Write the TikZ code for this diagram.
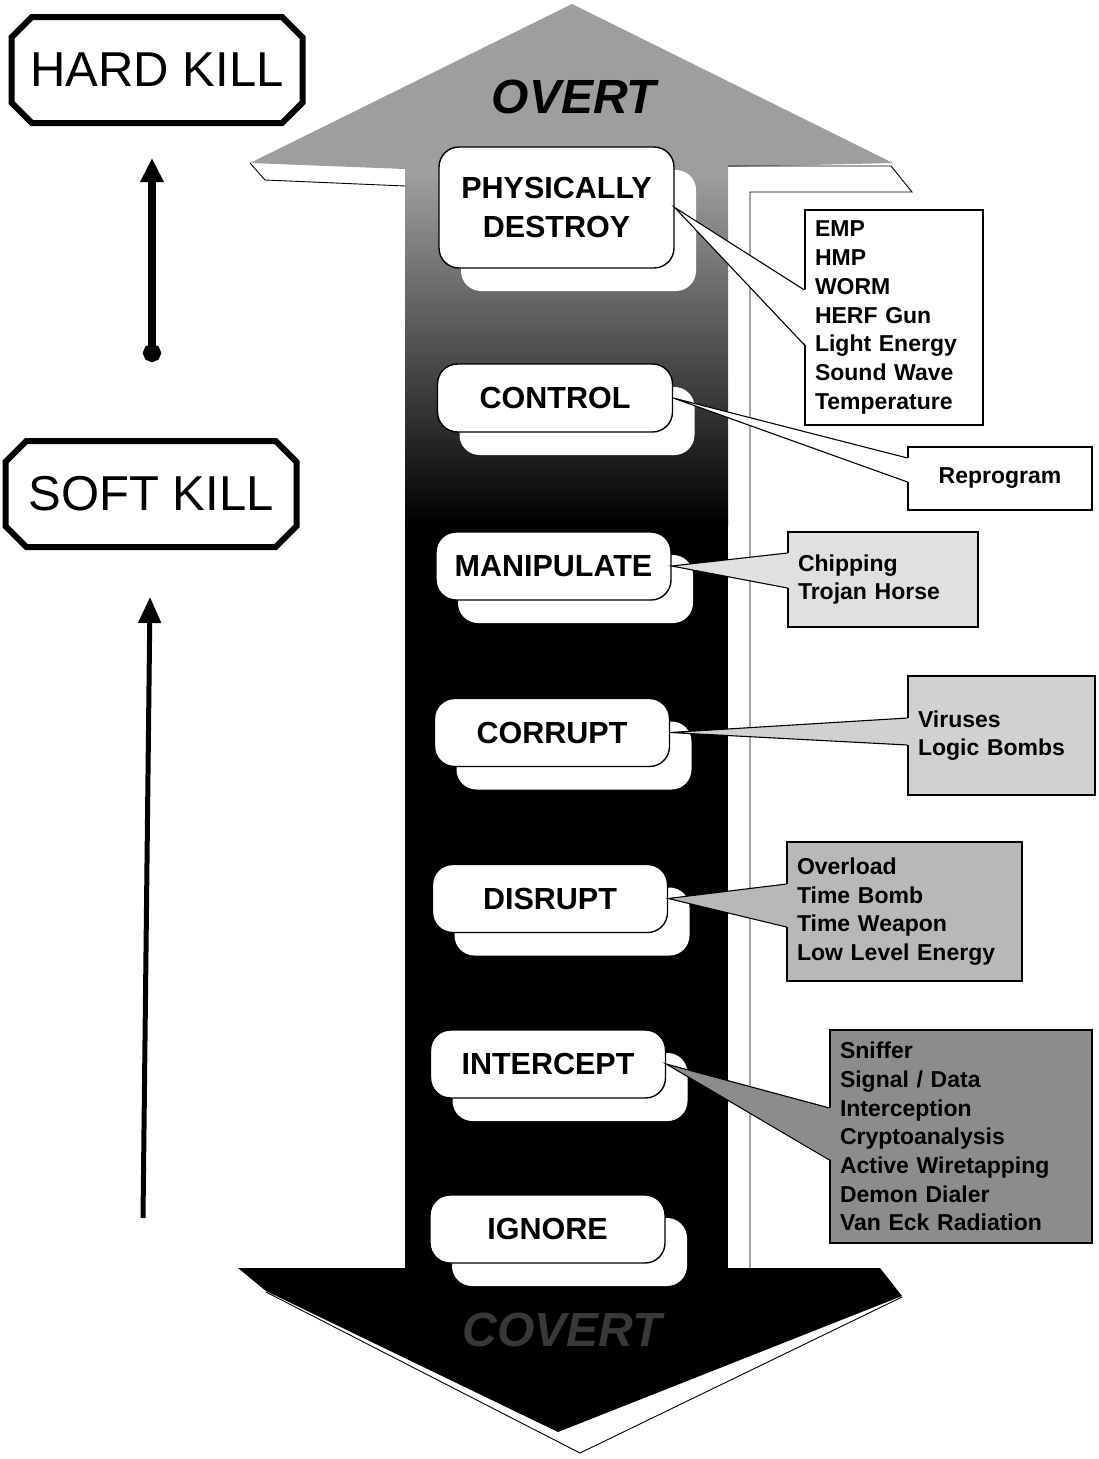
\documentclass[tikz,border=0pt]{standalone}
\usepackage{fontspec}
\setmainfont{Liberation Sans}
\usetikzlibrary{shapes.misc,arrows.meta,shadows}
\begin{document}
\begin{tikzpicture}[x=1pt,y=-1pt,
  killbox/.style={draw=black, line width=6pt, fill=white, chamfered rectangle, chamfered rectangle xsep=26pt, minimum width=291pt, minimum height=106pt, inner sep=0pt, font=\fontsize{49}{55}\selectfont},
  stepbox/.style={draw=black, line width=1.4pt, fill=white, rounded corners=20pt, minimum width=235pt, minimum height=68pt, inner sep=0pt, align=center, font=\fontsize{30.5}{38.5}\selectfont\bfseries, general shadow={draw=none, fill=white, shadow xshift=22pt, shadow yshift=-23pt}},
  listbox/.style={draw=black, line width=1.1pt, inner xsep=10pt, inner ysep=0pt, align=left, font=\fontsize{23}{28.7}\selectfont\bfseries},
  callline/.style={draw=black, line width=1.1pt},
]
\useasboundingbox (0,0) rectangle (1098,1459);
% ---- double arrow body ----
\fill[black!38] (572,4) -- (893,163) -- (728,167) -- (728,176) -- (405,176) -- (405,169) -- (250,163) -- cycle;
\shade[top color=black!38, middle color=black!52, bottom color=black] (405,175) rectangle (728,525);
\fill[black] (405,523) rectangle (728,1270);
\fill[black] (238,1268) -- (880,1268) -- (902,1296) -- (558,1432) -- (266,1291) -- cycle;
\draw[line width=0.9pt] (266,1292) -- (580,1453) -- (902,1297);
\draw[line width=0.9pt] (728,166) -- (891,166) -- (912,192) -- (750,192) -- (750,1268);
\draw[line width=0.9pt] (250,163) -- (265,180) -- (405,186);
\node[font=\fontsize{48}{52}\selectfont\bfseries\itshape] (overt) at (574,97) {OVERT};
\node[font=\fontsize{48}{52}\selectfont\bfseries\itshape, text=black!78] (covert) at (562,1330) {COVERT};
% ---- steps ----
\node[stepbox, minimum height=121pt] (pd) at (556.5,207.5) {PHYSICALLY\\DESTROY};
\node[stepbox] (ctl) at (555,398) {CONTROL};
\node[stepbox] (man) at (553.5,566) {MANIPULATE};
\node[stepbox] (cor) at (552,732.5) {CORRUPT};
\node[stepbox] (dis) at (550,898.5) {DISRUPT};
\node[stepbox] (int) at (548,1064) {INTERCEPT};
\node[stepbox] (ign) at (547.5,1229) {IGNORE};
% ---- lists ----
\node[listbox, fill=white, text width=158pt, minimum height=215pt] (lpd) at (894,317.5) {EMP\\HMP\\WORM\\HERF Gun\\Light Energy\\Sound Wave\\Temperature};
\node[listbox, fill=white, text width=164pt, minimum height=63pt, align=center] (lctl) at (1000,478.5) {Reprogram};
\node[listbox, fill=black!12, text width=170pt, minimum height=95pt] (lman) at (883,579.5) {Chipping\\Trojan Horse};
\node[listbox, fill=black!18, text width=167pt, minimum height=119pt] (lcor) at (1001.5,735.5) {Viruses\\Logic Bombs};
\node[listbox, fill=black!28, text width=215pt, minimum height=139pt] (ldis) at (904.5,911.5) {Overload\\Time Bomb\\Time Weapon\\Low Level Energy};
\node[listbox, fill=black!45, text width=242pt, minimum height=213pt] (lint) at (961,1136.5) {Sniffer\\Signal / Data\\Interception\\Cryptoanalysis\\Active Wiretapping\\Demon Dialer\\Van Eck Radiation};
% ---- callout wedges ----
\fill[white] (pd.east) -- ([xshift=1.5pt]lpd.west |- 0,290) -- ([xshift=1.5pt]lpd.west |- 0,345) -- cycle;
\draw[callline] (lpd.west |- 0,290) -- (pd.east) -- (lpd.west |- 0,345);
\fill[white] (ctl.east) -- ([xshift=1.5pt]lctl.west |- 0,458) -- ([xshift=1.5pt]lctl.west |- 0,482) -- cycle;
\draw[callline] (lctl.west |- 0,458) -- (ctl.east) -- (lctl.west |- 0,482);
\fill[black!12] (man.east) -- ([xshift=1.5pt]lman.west |- 0,553) -- ([xshift=1.5pt]lman.west |- 0,588) -- cycle;
\draw[callline] (lman.west |- 0,553) -- (man.east) -- (lman.west |- 0,588);
\fill[black!18] (cor.east) -- ([xshift=1.5pt]lcor.west |- 0,718) -- ([xshift=1.5pt]lcor.west |- 0,745) -- cycle;
\draw[callline] (lcor.west |- 0,718) -- (cor.east) -- (lcor.west |- 0,745);
\fill[black!28] (dis.east) -- ([xshift=1.5pt]ldis.west |- 0,884) -- ([xshift=1.5pt]ldis.west |- 0,927) -- cycle;
\draw[callline] (ldis.west |- 0,884) -- (dis.east) -- (ldis.west |- 0,927);
\fill[black!45] (int.east) -- ([xshift=1.5pt]lint.west |- 0,1108) -- ([xshift=1.5pt]lint.west |- 0,1160) -- cycle;
\draw[callline] (lint.west |- 0,1108) -- (int.east) -- (lint.west |- 0,1160);
% ---- kill boxes and arrows ----
\node[killbox] (hard) at (157,70) {HARD KILL};
\node[killbox] (soft) at (151,494) {SOFT KILL};
\coordinate (t1) at (152,158);
\coordinate (s1) at (152,362);
\draw[line width=8pt, {Circle[length=18pt,width=18pt]}-{Triangle[length=24pt,width=22pt]}] (s1) -- (t1);
\coordinate (t2) at (150,597);
\coordinate (s2) at (143,1218);
\draw[line width=5pt, -{Triangle[length=26pt,width=22pt]}] (s2) -- (t2);
\end{tikzpicture}
\end{document}
